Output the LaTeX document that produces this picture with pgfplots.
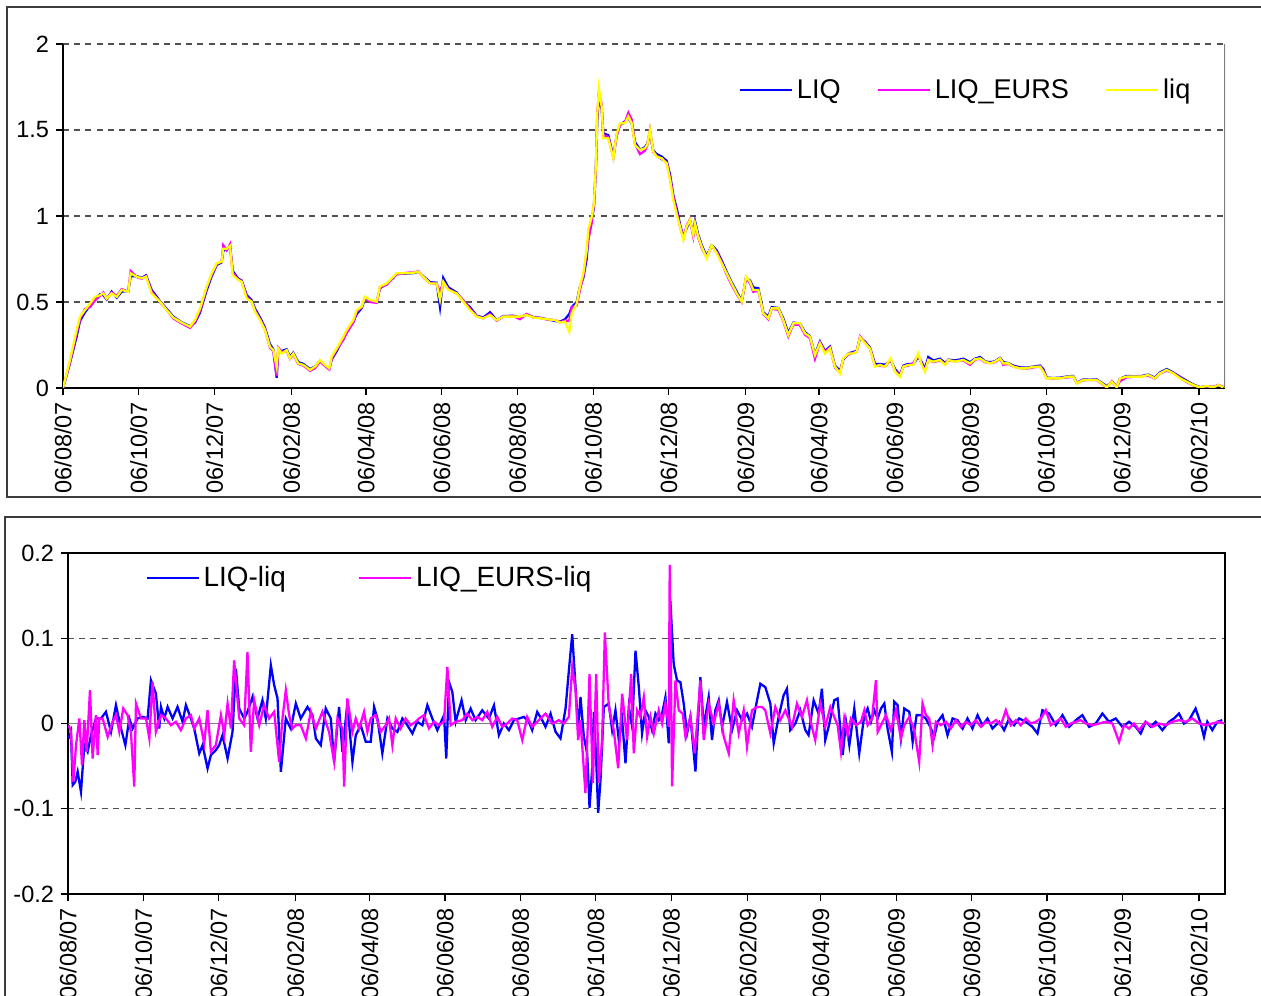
\documentclass[border=0pt]{standalone}
\usepackage{fontspec}
\setmainfont{Liberation Sans}
\usepackage{pgfplots}
\pgfplotsset{compat=1.18}
\usepackage{pgfplotstable}

\definecolor{gridgray}{RGB}{80,80,80}
\definecolor{framegray}{RGB}{60,60,60}
\definecolor{liqblue}{RGB}{0,0,255}
\definecolor{liqmagenta}{RGB}{255,0,255}
\definecolor{liqyellow}{RGB}{255,255,0}

% liquidity measures, x = days since 06/08/2007
\pgfplotstableread{
d liq LIQ EURS
0 0.000 0.000 0.000
5.6 0.163 0.145 0.150
11.0 0.337 0.300 0.320
13.7 0.415 0.390 0.400
17.7 0.453 0.440 0.460
21.7 0.490 0.480 0.470
25.8 0.530 0.520 0.510
29.8 0.540 0.545 0.535
32.5 0.550 0.540 0.555
35.2 0.520 0.515 0.520
39.2 0.550 0.560 0.555
43.3 0.530 0.525 0.535
47.3 0.570 0.560 0.575
52.6 0.560 0.565 0.560
54.5 0.667 0.650 0.680
59.4 0.647 0.650 0.645
63.4 0.638 0.640 0.635
66.9 0.647 0.655 0.650
71.4 0.550 0.570 0.560
78.1 0.502 0.505 0.500
83.5 0.453 0.460 0.455
88.8 0.410 0.415 0.405
95.6 0.380 0.382 0.375
102.3 0.357 0.360 0.350
106.3 0.395 0.380 0.385
110.4 0.463 0.440 0.450
115.8 0.590 0.570 0.585
119.8 0.667 0.650 0.660
123.8 0.725 0.715 0.720
127.8 0.734 0.730 0.735
129.1 0.810 0.800 0.830
131.9 0.810 0.805 0.800
134.5 0.826 0.830 0.835
136.7 0.657 0.680 0.670
141.2 0.628 0.635 0.630
143.9 0.618 0.625 0.620
148.0 0.520 0.540 0.530
152.0 0.502 0.510 0.500
154.7 0.444 0.460 0.450
158.7 0.395 0.410 0.400
162.7 0.337 0.350 0.340
166.7 0.240 0.255 0.235
169.4 0.220 0.225 0.215
172.1 0.124 0.060 0.070
173.4 0.230 0.220 0.235
176.2 0.200 0.215 0.210
180.2 0.220 0.225 0.215
182.8 0.172 0.180 0.170
185.5 0.200 0.205 0.195
189.5 0.143 0.150 0.140
193.6 0.134 0.140 0.130
199.0 0.105 0.110 0.100
203.0 0.124 0.125 0.115
207.0 0.163 0.160 0.155
211.0 0.134 0.130 0.128
214.5 0.114 0.110 0.108
216.4 0.182 0.165 0.170
220.5 0.230 0.215 0.225
225.8 0.298 0.290 0.280
228.5 0.337 0.330 0.320
233.8 0.395 0.385 0.380
236.6 0.453 0.430 0.445
240.6 0.473 0.465 0.470
243.3 0.530 0.520 0.525
247.3 0.512 0.505 0.500
252.7 0.502 0.500 0.495
255.3 0.590 0.580 0.585
260.7 0.608 0.605 0.600
266.1 0.647 0.640 0.645
268.8 0.667 0.665 0.660
276.9 0.667 0.665 0.670
282.2 0.670 0.668 0.672
286.2 0.676 0.675 0.678
290.2 0.647 0.650 0.645
295.6 0.608 0.615 0.610
301.0 0.608 0.612 0.605
303.7 0.512 0.470 0.560
306.3 0.618 0.640 0.615
310.4 0.570 0.585 0.575
317.1 0.550 0.555 0.550
322.4 0.502 0.505 0.510
327.8 0.453 0.470 0.460
333.2 0.415 0.420 0.418
338.6 0.405 0.410 0.405
344.0 0.424 0.440 0.430
349.3 0.395 0.395 0.392
354.7 0.415 0.418 0.415
362.7 0.415 0.420 0.418
368.1 0.415 0.410 0.400
373.5 0.424 0.428 0.430
378.8 0.410 0.412 0.410
384.2 0.405 0.408 0.408
389.6 0.400 0.400 0.398
396.3 0.395 0.390 0.395
400.3 0.380 0.385 0.382
404.4 0.386 0.400 0.392
407.8 0.327 0.430 0.390
409.8 0.434 0.470 0.470
413.8 0.490 0.500 0.480
416.4 0.590 0.590 0.570
419.1 0.667 0.640 0.650
421.8 0.800 0.750 0.790
423.1 0.920 0.870 0.860
425.9 0.996 0.990 0.960
427.7 1.074 1.050 1.070
429.3 1.306 1.300 1.280
430.4 1.597 1.560 1.600
431.7 1.742 1.700 1.720
433.9 1.636 1.620 1.650
435.2 1.452 1.480 1.470
439.2 1.452 1.470 1.460
443.3 1.335 1.345 1.340
446.0 1.480 1.470 1.470
448.7 1.539 1.530 1.530
452.7 1.539 1.550 1.545
455.4 1.578 1.570 1.600
458.1 1.539 1.540 1.560
460.7 1.413 1.430 1.420
464.8 1.384 1.385 1.360
468.8 1.394 1.400 1.380
470.6 1.413 1.420 1.410
472.8 1.500 1.480 1.500
475.5 1.374 1.380 1.370
478.2 1.345 1.360 1.350
482.3 1.335 1.345 1.330
486.3 1.306 1.320 1.310
489.0 1.209 1.240 1.220
491.6 1.093 1.120 1.110
494.8 0.996 1.030 1.010
497.0 0.938 0.950 0.940
499.7 0.860 0.880 0.870
502.4 0.938 0.930 0.945
505.0 0.977 0.970 0.980
507.7 0.890 0.900 0.880
509.1 0.957 0.970 0.950
511.7 0.880 0.890 0.875
514.5 0.821 0.830 0.815
518.5 0.754 0.765 0.760
522.5 0.831 0.830 0.825
526.6 0.783 0.800 0.790
530.6 0.725 0.740 0.730
534.6 0.667 0.675 0.660
538.6 0.608 0.615 0.600
542.7 0.550 0.560 0.545
546.7 0.502 0.505 0.500
550.2 0.647 0.640 0.640
553.4 0.618 0.625 0.610
556.0 0.570 0.585 0.560
560.1 0.570 0.580 0.565
564.1 0.434 0.440 0.430
568.1 0.405 0.415 0.400
570.9 0.463 0.470 0.460
576.2 0.463 0.465 0.455
580.2 0.395 0.405 0.390
584.2 0.308 0.320 0.300
588.3 0.376 0.380 0.370
593.6 0.376 0.375 0.365
597.7 0.318 0.325 0.310
601.7 0.298 0.300 0.290
605.7 0.192 0.195 0.170
609.7 0.260 0.270 0.265
613.8 0.200 0.215 0.210
617.8 0.230 0.240 0.235
621.8 0.124 0.130 0.120
625.9 0.085 0.100 0.090
628.5 0.172 0.165 0.170
632.6 0.200 0.200 0.195
636.6 0.200 0.210 0.205
639.3 0.211 0.215 0.210
642.0 0.295 0.290 0.300
646.0 0.260 0.270 0.265
650.0 0.230 0.235 0.230
654.1 0.124 0.140 0.130
658.1 0.134 0.140 0.130
662.1 0.124 0.135 0.125
666.7 0.172 0.160 0.165
670.2 0.095 0.110 0.100
674.2 0.066 0.075 0.070
676.9 0.124 0.130 0.125
680.9 0.134 0.140 0.130
684.9 0.134 0.140 0.145
688.9 0.200 0.180 0.190
691.7 0.134 0.150 0.140
694.3 0.095 0.110 0.100
697.0 0.163 0.180 0.165
701.0 0.153 0.160 0.150
706.4 0.163 0.170 0.160
710.5 0.134 0.145 0.140
713.1 0.163 0.165 0.160
718.5 0.153 0.160 0.155
725.2 0.163 0.170 0.160
730.6 0.143 0.150 0.135
734.6 0.167 0.170 0.165
738.7 0.172 0.180 0.170
742.7 0.153 0.155 0.150
746.7 0.143 0.150 0.145
750.7 0.153 0.155 0.150
754.8 0.172 0.175 0.170
757.4 0.143 0.150 0.135
761.4 0.143 0.145 0.140
765.5 0.124 0.130 0.125
770.9 0.114 0.120 0.115
776.3 0.114 0.118 0.112
781.6 0.124 0.125 0.120
787.0 0.124 0.130 0.125
789.6 0.095 0.110 0.100
792.4 0.056 0.060 0.058
797.7 0.056 0.058 0.055
803.1 0.056 0.060 0.058
809.8 0.066 0.068 0.062
813.8 0.066 0.070 0.065
816.6 0.027 0.030 0.028
821.9 0.047 0.050 0.045
827.3 0.047 0.048 0.047
832.7 0.047 0.050 0.046
836.7 0.027 0.030 0.025
840.8 0.004 0.010 0.003
844.8 0.037 0.035 0.040
848.8 0.004 0.008 0.006
851.4 0.056 0.055 0.040
856.8 0.066 0.070 0.062
863.5 0.066 0.068 0.065
868.9 0.066 0.070 0.068
874.2 0.076 0.078 0.072
879.6 0.056 0.060 0.055
883.6 0.085 0.090 0.085
889.0 0.105 0.110 0.100
894.3 0.085 0.090 0.088
899.7 0.056 0.065 0.060
905.1 0.037 0.042 0.035
910.5 0.017 0.020 0.015
915.9 0.004 0.005 0.003
921.3 0.012 0.010 0.010
926.6 0.004 0.005 0.006
930.7 0.017 0.015 0.018
934.7 0.004 0.006 0.005
}\levels

% LIQ - liq
\pgfplotstableread{
d v
0.6 -0.0176
2.4 -0.0098
3.8 -0.0722
5.9 -0.0683
7.8 -0.0566
10.5 -0.0800
13.2 -0.0254
15.9 -0.0332
18.6 -0.0137
22.6 0.0059
26.7 0.0059
30.7 0.0137
34.8 -0.0098
38.8 0.0215
42.9 -0.0059
46.4 -0.0254
49.6 0.0059
52.3 -0.0059
56.3 0.0059
60.4 0.0078
64.4 0.0059
67.1 0.0507
71.1 0.0351
73.8 -0.0059
75.2 0.0195
77.9 0.0059
80.6 0.0195
84.6 0.0059
88.6 0.0195
92.7 0.0020
95.4 0.0215
99.4 0.0059
102.1 -0.0059
106.2 -0.0351
108.9 -0.0254
112.9 -0.0527
115.6 -0.0371
119.6 -0.0312
122.3 -0.0254
125.0 -0.0137
129.1 -0.0410
133.1 -0.0098
135.8 0.0644
138.5 0.0176
142.5 0.0059
145.2 0.0137
149.3 0.0312
153.3 0.0059
157.3 0.0273
160.0 0.0059
164.1 0.0683
166.8 0.0449
169.5 0.0293
172.2 -0.0566
176.2 0.0059
180.2 -0.0059
184.3 0.0234
188.3 0.0059
193.7 0.0195
197.8 0.0098
200.5 -0.0176
204.5 -0.0254
208.5 0.0176
212.6 0.0059
215.3 -0.0449
219.3 0.0195
222.0 -0.0332
226.0 0.0234
230.1 -0.0449
232.8 -0.0137
236.8 -0.0020
240.9 -0.0215
244.9 -0.0215
247.6 0.0195
250.3 0.0059
254.3 -0.0351
258.4 0.0059
262.4 -0.0059
266.5 -0.0098
270.5 0.0059
274.5 -0.0020
278.6 -0.0117
282.6 0.0020
286.7 -0.0020
290.7 0.0215
294.7 0.0059
298.8 -0.0078
304.2 0.0098
306.0 -0.0410
308.2 0.0488
310.9 0.0371
313.6 0.0020
318.4 0.0272
321.7 0.0039
325.7 0.0175
329.7 0.0039
335.1 0.0155
340.5 0.0058
344.6 0.0213
348.6 -0.0136
352.6 0.0000
356.7 -0.0078
360.7 0.0039
364.8 0.0058
368.8 0.0078
372.9 0.0019
375.5 -0.0078
379.6 0.0136
383.6 0.0039
386.3 -0.0039
390.4 0.0116
394.4 -0.0097
398.4 -0.0175
402.5 0.0175
405.2 0.0621
407.9 0.1048
410.6 0.0427
412.7 -0.0078
414.6 0.0310
417.3 -0.0155
420.0 -0.0349
421.9 -0.0989
424.0 -0.0543
425.4 0.0136
427.3 -0.0427
428.9 -0.1048
430.8 -0.0660
433.5 0.0194
437.5 0.0233
440.2 -0.0078
442.9 0.0155
445.6 -0.0194
448.3 0.0039
451.0 -0.0466
453.7 0.0194
456.4 -0.0039
459.1 0.0854
461.8 0.0427
464.4 -0.0116
467.1 0.0155
469.8 0.0078
472.5 -0.0078
475.2 0.0116
477.9 0.0039
480.6 0.0116
483.3 0.0310
486.0 -0.0233
487.3 0.1436
490.0 0.0698
492.7 0.0504
495.4 0.0485
498.1 0.0233
500.8 -0.0116
503.5 0.0078
507.6 -0.0563
511.6 0.0543
514.3 -0.0039
518.3 0.0310
521.0 -0.0194
523.7 0.0155
526.4 0.0272
529.1 -0.0039
533.1 0.0252
537.2 -0.0078
541.2 0.0155
545.3 0.0039
549.3 0.0116
553.3 -0.0039
557.4 0.0272
560.1 0.0466
564.1 0.0427
568.2 0.0233
570.9 -0.0233
574.9 0.0078
578.9 0.0330
581.6 0.0407
584.3 -0.0078
588.4 0.0000
592.4 0.0155
596.5 -0.0078
599.1 -0.0136
603.2 0.0272
607.2 0.0116
609.9 0.0407
612.6 -0.0194
615.3 -0.0039
619.9 0.0273
622.6 0.0293
626.7 -0.0371
629.4 0.0020
632.1 -0.0254
636.1 0.0176
640.1 -0.0351
644.2 0.0098
646.9 0.0176
649.6 0.0020
652.3 0.0156
655.0 0.0059
657.7 0.0176
660.4 0.0234
663.0 -0.0059
666.5 -0.0332
668.4 0.0254
671.1 0.0215
673.8 -0.0176
676.5 0.0176
680.6 0.0137
683.3 -0.0215
686.5 0.0098
690.0 0.0098
694.0 0.0059
698.1 -0.0059
700.8 -0.0156
703.5 0.0020
707.5 0.0098
711.5 -0.0137
715.6 0.0059
719.6 0.0039
723.7 -0.0059
727.7 0.0059
731.7 -0.0059
735.8 0.0098
739.8 -0.0020
743.9 0.0059
747.9 -0.0059
753.3 0.0020
757.3 -0.0078
761.4 0.0059
765.4 -0.0020
769.5 0.0059
774.8 0.0020
780.2 -0.0039
784.3 -0.0117
788.3 0.0156
793.7 0.0117
799.1 -0.0020
804.5 0.0098
809.9 -0.0039
815.3 0.0039
820.6 0.0098
826.0 -0.0039
831.4 0.0000
836.8 0.0117
842.2 0.0020
847.6 0.0059
853.0 -0.0039
858.4 0.0020
863.7 -0.0039
867.8 -0.0117
871.8 0.0020
875.9 -0.0039
879.9 0.0020
885.3 -0.0078
890.7 0.0020
894.7 0.0059
898.8 0.0117
902.8 0.0000
906.9 0.0039
912.2 0.0176
916.3 0.0000
919.0 -0.0156
921.7 0.0020
925.7 -0.0078
929.7 0.0020
933.8 0.0039
}\diffLIQ

% LIQ_EURS - liq
\pgfplotstableread{
d v
0.6 -0.0020
2.4 -0.0098
4.3 -0.0683
6.5 -0.0254
9.2 0.0059
11.3 -0.0488
13.2 0.0039
15.1 -0.0332
17.8 0.0390
19.9 -0.0410
22.6 0.0098
24.0 -0.0371
25.3 0.0059
28.0 0.0059
32.1 -0.0156
36.1 0.0020
38.8 0.0098
41.5 -0.0098
44.7 0.0176
48.2 0.0098
50.9 -0.0098
53.6 -0.0741
55.0 0.0234
59.0 0.0059
63.1 0.0059
65.8 -0.0176
68.4 0.0488
71.1 -0.0098
75.2 0.0098
79.2 0.0059
83.3 -0.0020
87.3 0.0020
91.3 -0.0078
95.4 0.0059
99.4 0.0098
102.1 -0.0059
106.2 0.0059
110.2 -0.0234
112.9 0.0156
115.6 -0.0332
119.6 -0.0254
123.7 0.0098
126.4 -0.0137
129.1 0.0234
131.8 -0.0059
134.4 0.0741
138.5 0.0059
142.5 -0.0020
145.2 0.0839
147.9 -0.0332
150.6 0.0273
154.7 -0.0020
158.7 0.0215
162.7 0.0059
166.8 0.0137
170.8 -0.0449
173.5 0.0059
176.2 0.0390
178.9 0.0098
181.6 -0.0059
184.3 -0.0020
188.3 -0.0020
192.4 -0.0176
196.4 0.0137
200.5 -0.0059
205.8 0.0137
211.2 -0.0098
215.3 -0.0449
218.0 0.0059
222.0 -0.0059
223.4 -0.0741
226.0 0.0293
230.1 -0.0098
232.8 0.0059
235.5 -0.0059
239.5 0.0137
242.2 -0.0098
244.9 0.0059
248.9 0.0098
253.0 -0.0098
257.0 -0.0020
259.7 0.0059
262.4 -0.0254
265.1 0.0059
269.1 -0.0059
273.2 0.0059
277.2 -0.0020
281.3 0.0020
284.0 0.0059
288.0 0.0098
292.0 -0.0059
296.1 0.0020
300.1 -0.0020
304.2 0.0020
306.9 0.0663
309.6 -0.0020
313.6 0.0020
319.0 0.0039
323.0 0.0116
327.1 0.0039
331.1 0.0078
335.1 0.0039
339.2 0.0136
343.2 -0.0039
347.3 0.0078
351.3 -0.0039
355.3 0.0000
359.4 0.0058
363.4 0.0039
367.5 -0.0194
371.5 0.0078
375.5 -0.0039
380.9 0.0039
386.3 0.0116
391.7 0.0000
397.1 0.0039
401.1 0.0000
405.2 0.0078
407.9 0.0660
410.6 0.0388
412.7 -0.0194
414.6 0.0039
418.6 -0.0815
421.9 0.0582
424.6 -0.0698
427.3 0.0582
429.4 -0.0698
432.1 -0.0194
434.3 0.1067
437.5 0.0194
441.5 -0.0078
445.1 -0.0524
448.3 0.0349
452.3 -0.0194
455.6 0.0582
457.7 -0.0349
460.4 0.0155
463.1 0.0078
465.8 0.0310
468.5 -0.0155
471.2 0.0078
473.9 -0.0116
477.9 0.0155
480.6 0.0000
483.3 0.0233
486.0 -0.0039
486.8 0.1862
488.7 -0.0737
491.4 0.0504
494.1 0.0155
497.3 0.0116
499.5 -0.0155
503.5 0.0078
507.0 -0.0349
511.6 0.0504
514.3 -0.0194
518.3 0.0233
522.4 0.0000
526.4 0.0233
530.5 -0.0155
534.5 -0.0349
538.5 0.0272
542.6 -0.0116
546.6 0.0155
549.3 -0.0272
553.3 0.0155
557.4 0.0194
561.4 0.0194
564.1 0.0155
568.2 -0.0116
572.2 0.0194
576.2 0.0039
580.3 0.0155
585.7 -0.0039
589.7 0.0233
593.8 0.0078
597.8 0.0272
600.5 0.0039
604.5 -0.0194
608.6 0.0233
612.6 -0.0039
616.7 0.0194
622.6 -0.0020
625.3 -0.0332
628.0 0.0059
630.7 -0.0137
633.4 0.0059
637.5 -0.0020
641.5 0.0020
644.2 0.0156
646.9 -0.0020
650.4 0.0059
653.6 0.0507
655.0 -0.0098
657.7 -0.0020
661.7 0.0098
665.7 -0.0078
669.8 0.0156
673.8 -0.0176
676.5 -0.0020
680.6 0.0078
684.6 -0.0078
688.6 -0.0449
691.3 0.0234
694.0 0.0098
696.7 0.0059
699.4 -0.0254
702.1 0.0020
706.1 -0.0020
710.2 0.0020
714.2 -0.0059
718.3 0.0039
722.3 -0.0039
726.4 0.0020
730.4 -0.0020
734.4 0.0039
738.5 -0.0039
742.5 0.0020
746.6 0.0000
750.6 0.0039
754.6 -0.0020
758.7 0.0156
762.7 -0.0020
766.8 0.0039
770.8 -0.0020
774.8 0.0059
778.9 0.0000
782.9 0.0020
787.0 0.0059
791.0 0.0156
795.1 -0.0020
799.1 0.0020
803.1 0.0059
807.2 -0.0039
811.2 0.0000
815.3 0.0020
819.3 0.0039
823.3 0.0000
828.7 -0.0020
834.1 0.0000
839.5 0.0020
844.9 0.0000
850.3 -0.0215
854.3 -0.0020
858.4 -0.0059
862.4 0.0000
866.4 -0.0078
871.8 0.0020
877.2 -0.0039
882.6 0.0000
888.0 -0.0020
893.4 0.0020
898.8 0.0039
904.2 0.0020
909.6 0.0059
915.0 0.0000
920.3 -0.0020
925.7 0.0000
931.1 0.0020
935.1 0.0000
}\diffEURS

\pgfplotsset{
  panel/.style={
    scale only axis,
    xmin=0, xmax=936,
    xtick={0,61,122,184,244,305,366,427,488,550,609,670,731,792,853,915},
    xticklabels={06/08/07,06/10/07,06/12/07,06/02/08,06/04/08,06/06/08,06/08/08,06/10/08,06/12/08,06/02/09,06/04/09,06/06/09,06/08/09,06/10/09,06/12/09,06/02/10},
    x tick label style={rotate=90, anchor=east, font=\fontsize{11.8}{13}\selectfont},
    y tick label style={font=\fontsize{11.8}{13}\selectfont},
    /pgf/number format/assume math mode=true,
    tick align=outside,
    major tick length=3.5bp,
    tick style={black, line width=0.6bp},
    ymajorgrids,
    major grid style={gridgray, line width=0.55bp, dash pattern=on 3bp off 2.6bp},
    legend style={draw=none, fill=none},
    legend cell align=left,
    legend image code/.code={\draw[#1] (0bp,0bp) -- (26bp,0bp);},
    every axis plot/.append style={line width=1.15bp, mark=none},
  }
}

\begin{document}
\begin{tikzpicture}
\useasboundingbox (0,0) rectangle (630.5bp,498bp);

% upper panel: levels
\begin{axis}[panel,
  at={(31.5bp,304bp)}, anchor=south west,
  width=581bp, height=172bp,
  ymin=0, ymax=2, ytick={0,0.5,1,1.5,2},
  axis x line*=bottom, axis y line*=left,
  axis line style={black, line width=0.75bp},
  legend columns=3,
  legend style={at={(0.576,0.866)}, anchor=west,
    font=\fontsize{13.6}{15}\selectfont,
    /tikz/every even column/.append style={column sep=16bp}},
]
\addplot[liqblue] table[x=d, y=LIQ] {\levels};
\addlegendentry{LIQ}
\addplot[liqmagenta] table[x=d, y=EURS] {\levels};
\addlegendentry{LIQ\_EURS}
\addplot[liqyellow] table[x=d, y=liq] {\levels};
\addlegendentry{liq}
\draw[gray, line width=0.6bp] (rel axis cs:1,0) -- (rel axis cs:1,1);
\end{axis}

% lower panel: differences
\begin{axis}[panel,
  at={(34bp,51bp)}, anchor=south west,
  width=578.5bp, height=170.5bp,
  ymin=-0.2, ymax=0.2, ytick={-0.2,-0.1,0,0.1,0.2},
  xtick pos=bottom, ytick pos=left,
  axis line style={black, line width=0.75bp},
  legend columns=2,
  legend style={at={(0.0614,0.927)}, anchor=west,
    font=\fontsize{14}{16}\selectfont,
    /tikz/every even column/.append style={column sep=34bp}},
]
\draw[gray, line width=0.5bp] (axis cs:0,0) -- (axis cs:936,0);
\addplot[liqblue] table[x=d, y=v] {\diffLIQ};
\addlegendentry{LIQ-liq}
\addplot[liqmagenta] table[x=d, y=v] {\diffEURS};
\addlegendentry{LIQ\_EURS-liq}
\end{axis}

% chart area frames
\draw[framegray, line width=0.75bp] (640bp,494.5bp) -- (3.5bp,494.5bp) -- (3.5bp,249.5bp) -- (640bp,249.5bp);
\draw[framegray, line width=0.75bp] (640bp,239.5bp) -- (2.5bp,239.5bp) -- (2.5bp,-10bp);
\end{tikzpicture}
\end{document}
